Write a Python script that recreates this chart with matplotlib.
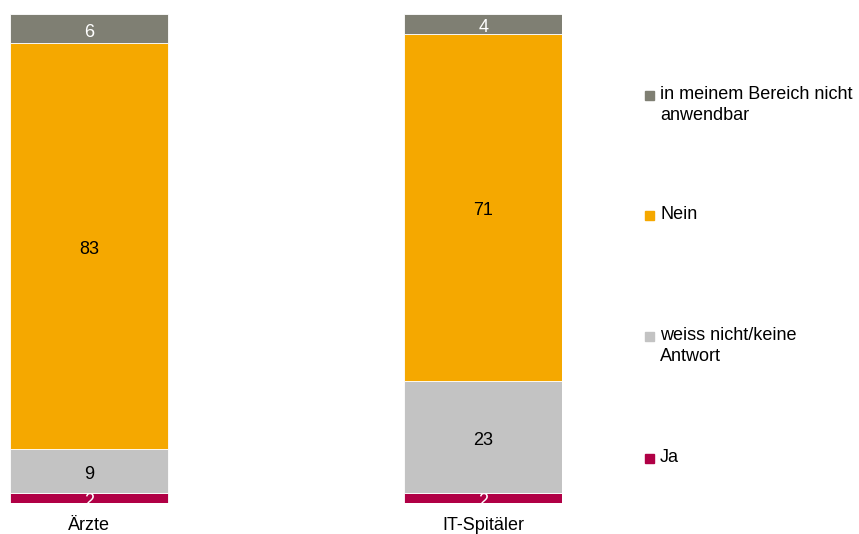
import matplotlib
matplotlib.use("Agg")
import matplotlib.pyplot as plt
import numpy as np

plt.rcParams['font.family'] = ['Liberation Sans', 'DejaVu Sans']

categories = ["Ärzte", "IT-Spitäler"]
series_names = ["Ja", "weiss nicht/keine\nAntwort", "Nein", "in meinem Bereich nicht\nanwendbar"]
ja = [2, 2]
weiss_nicht = [9, 23]
nein = [83, 71]
nicht_anwendbar = [6, 4]
series = [ja, weiss_nicht, nein, nicht_anwendbar]
colors = ["#B00045", "#C3C3C3", "#F5A800", "#7F7F73"]
text_colors = ["white", "black", "black", "white"]

fig = plt.figure(figsize=(8.59, 5.34), dpi=100)
ax = fig.add_axes([10/859, 31/534, 552/859, 489/534])
x = np.arange(len(categories))
bottom = np.zeros(len(categories))
fs = 13
for vals, col, tc in zip(series, colors, text_colors):
    vals = np.array(vals, dtype=float)
    ax.bar(x, vals, width=0.4, bottom=bottom, color=col, edgecolor="white", linewidth=0.6)
    for xi, b, v in zip(x, bottom, vals):
        ax.annotate(str(int(v)), (xi, b + v / 2), xytext=(0, -2.5), textcoords="offset points",
                    ha="center", va="center", color=tc, fontsize=fs)
    bottom += vals

ax.set_xlim(-0.2, 1.2)
ax.set_ylim(0, 100)
ax.set_xticks(x)
ax.set_xticklabels(categories, fontsize=fs)
ax.tick_params(axis="x", length=0, pad=10)
ax.set_yticks([])
for s in ax.spines.values():
    s.set_visible(False)

# legend (top to bottom)
legend_y = [95, 215, 336, 458]
for name, col, yy in zip(series_names[::-1], colors[::-1], legend_y):
    fig.patches.append(plt.Rectangle((645/859, 1 - (yy + 5)/534), 9/859, 9/534,
                                     transform=fig.transFigure, color=col))
    fig.text(660/859, 1 - (yy - 9)/534, name, fontsize=fs, va="top", ha="left",
             linespacing=1.3)

fig.savefig("out.png", dpi=100)
